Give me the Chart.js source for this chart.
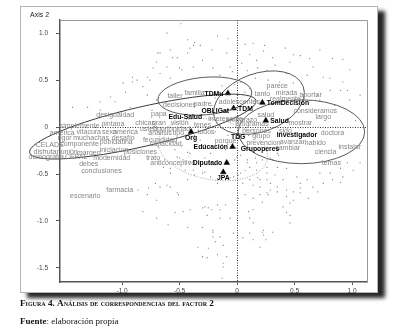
<!DOCTYPE html>
<html>
<head>
<meta charset="utf-8">
<script src="https://cdn.jsdelivr.net/npm/chart.js@4.4.1/dist/chart.umd.min.js"></script>
<style>
  html, body { margin: 0; padding: 0; background: #fff; }
</style>
</head>
<body>
<canvas id="caChart" width="400" height="335"></canvas>
<script>
// tick values of both axes
var xTicks = [-1.0, -0.5, 0, 0.5, 1.0];
var yTicks = [1.0, 0.5, 0, -0.5, -1.0, -1.5];

// categories shown with a black triangle
var catText = ["TDMu", "TDM", "TomDecisión", "Salud", "Educación", "Diputado", "JPA", "Org"];
var catX = [-0.08, -0.03, 0.22, 0.25, -0.04, -0.09, -0.12, -0.40];
var catY = [0.36, 0.20, 0.26, 0.07, -0.21, -0.38, -0.48, -0.05];

// bold categories without a visible marker
var boldText = ["OBLIGat", "Edu-Salud", "TDG", "Investigador", "Grupoperes"];
var boldX = [-0.19, -0.45, 0.01, 0.52, 0.20];
var boldY = [0.17, 0.11, -0.11, -0.09, -0.24];

// words (grey)
var wordText = ["parece", "mirada", "tanto", "realmente", "aportar", "adolescentes", "familia", "taller",
  "decisiones", "padre", "papa", "desigualdad", "simplemente", "pintana", "chicas", "gran", "vision",
  "usted", "oportunidad", "america", "vitacura", "sexo", "america", "analisis", "tipo", "tenes",
  "interesante", "embarazo", "salud", "consideramos", "largo", "mostrar", "programas", "todos",
  "personas", "sido", "grupo", "doctora", "prevencion", "avanzar", "habido", "instalar", "cambiar",
  "ciencia", "temas", "fecundidad", "desafío", "muchachas", "rigor", "componente", "CELADE", "poblo",
  "latina", "capacidad", "disfrutar", "unión", "margen", "iniciacion", "posiciones", "demografía",
  "CEPAL", "modernidad", "trato", "anticonceptivo", "debes", "conclusiones", "farmacia", "escenario",
  "porque"];
var wordX = [0.35, 0.43, 0.22, 0.42, 0.64, 0.02, -0.37, -0.54,
  -0.50, -0.30, -0.68, -1.06, -1.37, -1.08, -0.80, -0.68, -0.50,
  -0.77, -0.57, -1.52, -1.29, -1.11, -0.97, -0.67, -0.51, -0.30,
  -0.10, 0.04, 0.25, 0.68, 0.75, 0.55, 0.13, -0.27,
  0.17, 0.42, 0.21, 0.83, 0.23, 0.48, 0.68, 0.98, 0.44,
  0.77, 0.82, -0.67, -0.99, -1.27, -1.50, -1.37, -1.63, -1.12,
  -0.98, -0.62, -1.66, -1.46, -1.29, -1.07, -0.84, -1.66,
  -1.40, -1.09, -0.73, -0.56, -1.29, -1.18, -1.02, -1.32,
  -0.10];
var wordY = [0.44, 0.36, 0.35, 0.30, 0.34, 0.27, 0.36, 0.33,
  0.23, 0.24, 0.14, 0.13, 0.01, 0.03, 0.04, 0.04, 0.04,
  -0.02, -0.02, -0.06, -0.05, -0.05, -0.05, -0.06, -0.06, 0.02,
  0.09, 0.07, 0.13, 0.17, 0.11, 0.04, 0.03, -0.05,
  -0.04, -0.04, -0.10, -0.06, -0.17, -0.16, -0.17, -0.21, -0.22,
  -0.27, -0.38, -0.14, -0.12, -0.12, -0.12, -0.18, -0.19, -0.16,
  -0.16, -0.18, -0.27, -0.27, -0.28, -0.24, -0.27, -0.32,
  -0.32, -0.33, -0.33, -0.38, -0.39, -0.47, -0.67, -0.73,
  -0.15];

// small grey points of the cloud
var cloud = [
  [-0.49, 1.10], [-0.37, 0.90], [-0.17, 0.97], [-0.08, 0.94], [0.07, 0.88], [0.14, 0.89], [0.23, 0.81],
  [0.49, 0.77], [0.55, 0.76], [0.83, 0.73], [0.92, 0.72], [0.31, 0.74], [0.17, 0.71], [0.04, 0.68],
  [-0.09, 0.79], [-0.22, 0.82], [-0.32, 0.87], [-0.43, 0.79], [-0.52, 0.74], [-0.58, 0.82], [-0.69, 0.79],
  [-0.70, 0.69], [-0.61, 0.64], [-0.50, 0.63], [-0.38, 0.64], [-0.30, 0.71], [-0.21, 0.63], [-0.06, 0.64],
  [0.09, 0.60], [0.26, 0.60], [0.43, 0.57], [0.61, 0.55], [0.66, 0.64], [0.75, 0.53], [0.81, 0.52],
  [0.96, 0.39], [0.92, 0.48], [-0.67, 0.57], [-0.91, 0.48], [-0.99, 0.47], [-0.82, 0.43], [-0.76, 0.50],
  [-0.58, 0.52], [0.49, 0.47], [0.55, 0.36], [0.70, 0.34],
  [-0.91, 0.53], [-0.87, 0.50], [-0.97, 0.37], [-1.10, 0.32], [-1.06, 0.27], [-1.19, 0.27], [-0.93, 0.21],
  [-0.78, 0.34], [-0.70, 0.29], [-0.74, 0.18], [-1.43, 0.21], [-1.30, 0.21], [-1.19, 0.18], [-0.61, 1.00],
  [-0.56, 0.74], [-0.48, 0.61], [-0.43, 0.93], [-0.41, 0.84], [-0.38, 0.87], [-0.67, 0.79], [-0.73, 0.63],
  [-0.78, 0.53],
  [-0.86, -0.67], [-0.77, -0.65], [-0.67, -0.64], [-0.61, -0.62], [-0.58, -0.64], [-0.52, -0.70],
  [-0.51, -0.72], [-0.78, -0.72], [-0.70, -0.78], [-0.82, -0.90], [-0.70, -0.97], [-0.54, -0.91],
  [-0.47, -0.90], [-0.41, -0.88], [-0.28, -0.85], [-0.25, -0.86], [-0.22, -0.88], [-0.17, -0.83],
  [-0.10, -0.83], [-0.15, -0.97], [-0.06, -0.97], [-0.60, -1.04], [-0.43, -1.07], [-0.30, -1.07],
  [-0.21, -1.12], [-0.21, -1.17], [-0.19, -1.22], [-0.25, -1.29], [-0.34, -1.28], [-0.12, -1.26],
  [-0.17, -1.36], [-0.26, -1.39], [-0.12, -1.45], [-0.13, -1.61], [-0.03, -1.13], [0.05, -1.18],
  [0.01, -0.76], [0.07, -0.72], [0.14, -0.76], [0.20, -0.72], [0.27, -0.72], [0.22, -0.80], [0.35, -0.69],
  [0.43, -0.67], [0.49, -0.69], [0.55, -0.65], [0.62, -0.76], [0.70, -0.69], [0.10, -0.90], [0.14, -0.88],
  [0.11, -0.97], [0.14, -1.02], [0.22, -1.12], [0.23, -1.15], [0.25, -1.20], [0.31, -1.12], [0.46, -0.81],
  [0.43, -0.91], [0.46, -0.94], [-0.71, -0.60], [0.29, -0.60], [0.55, -0.60], [0.75, -0.60], [0.90, -0.59],
  [0.83, -0.56], [0.92, -0.53], [1.01, -0.46], [1.07, -0.38], [0.55, -0.70], [0.49, -0.78], [0.43, -0.74],
  [0.40, -0.85], [0.66, -0.64], [0.35, -0.64], [0.29, -0.67], [0.26, -0.70], [0.20, -0.64], [0.14, -0.62],
  [0.11, -0.56], [0.18, -0.54], [0.26, -0.56], [0.33, -0.51], [0.40, -0.56], [0.52, -0.53], [0.61, -0.56],
  [0.72, -0.49], [0.81, -0.49], [0.90, -0.44], [0.96, -0.38], [0.09, -0.38], [0.17, -0.38], [0.26, -0.43],
  [0.35, -0.43], [0.43, -0.44], [0.11, -1.13], [0.14, -1.20], [0.20, -1.28], [0.23, -1.10], [0.46, -1.02],
  [-0.30, -0.86], [-0.26, -0.94], [-0.15, -0.88], [-0.21, -1.10], [-0.15, -1.17], [-0.09, -1.38],
  [-0.30, -1.38], [-0.12, -1.49],
  [-0.54, -0.24], [-0.48, -0.20], [-0.43, -0.27], [-0.37, -0.22], [-0.50, -0.33], [-0.41, -0.37],
  [-0.28, -0.33], [-0.23, -0.28], [-0.19, -0.40], [-0.02, -0.35], [0.03, -0.30], [0.07, -0.46],
  [0.01, -0.51], [-0.06, -0.54], [-0.28, -0.48], [-0.37, -0.51], [-0.45, -0.46], [-0.58, -0.44],
  [-0.63, -0.35], [0.11, -0.24], [0.16, -0.33], [0.22, -0.35], [0.29, -0.33], [0.36, -0.30], [0.03, -0.14],
  [0.10, -0.09], [0.07, 0.16], [0.11, 0.20], [-0.10, 0.16], [-0.22, 0.23], [-0.19, 0.31], [0.07, 0.37],
  [0.11, 0.41], [-0.02, 0.45], [0.03, 0.48], [-0.08, 0.39], [-0.13, 0.44], [0.16, 0.52], [0.27, 0.50],
  [0.37, 0.48], [-0.25, -0.01], [-0.19, -0.05], [-0.15, 0.02], [-0.06, -0.01], [-0.08, -0.09],
  [-0.01, -0.22], [-0.32, -0.14], [-0.37, -0.09], [-0.28, -0.19], [-0.10, -0.24],
  [0.72, 0.29], [0.85, 0.23], [0.98, 0.29], [1.07, 0.34], [1.03, 0.07], [0.90, 0.39],
  [-0.52, -0.32], [-0.47, -0.35], [-0.41, -0.28], [0.00, -0.32], [0.09, -0.35], [0.11, -0.43],
  [0.17, -0.46], [0.03, -0.49], [-0.03, -0.53], [-0.23, -0.53], [-0.30, -0.49], [-0.38, -0.46],
  [-0.43, -0.56], [-0.17, -0.60], [0.05, -0.60], [0.20, -0.56], [0.26, -0.49], [0.31, -0.35],
  [0.35, -0.28], [-0.58, -0.49], [-0.64, -0.43],
  [-0.15, 0.55], [-0.04, 0.59], [0.18, 0.63], [0.33, 0.66], [0.46, 0.69], [0.63, 0.73], [0.11, 0.77],
  [0.24, 0.87], [0.42, 0.84], [0.72, 0.82], [0.98, 0.61], [0.81, 0.39]
];

// confidence ellipses: centre, radii (axis units) and tilt in degrees
var ellCx = [-0.82, -0.28, 0.19, 0.56, -0.21];
var ellCy = [0.005, 0.33, 0.26, -0.05, -0.24];
var ellRx = [1.01, 0.41, 0.41, 0.55, 0.48];
var ellRy = [0.21, 0.20, 0.31, 0.34, 0.32];
var ellRot = [-13, -5, -20, 0, 10];

var sansFont = '"Liberation Sans", Arial, sans-serif';
var serifFont = '"Liberation Serif", "Times New Roman", serif';

var labelSide = {
  TDMu: "left", TDM: "right", "TomDecisión": "right", Salud: "right",
  "Educación": "left", Diputado: "left", JPA: "below", Org: "below"
};

function toPoints(xs, ys) {
  var pts = [];
  for (var i = 0; i < xs.length; i++) {
    pts.push({ x: xs[i], y: ys[i] });
  }
  return pts;
}

var framePlugin = {
  id: "frame",
  beforeDraw: function (chart) {
    var ctx = chart.ctx;
    ctx.save();
    ctx.fillStyle = "#fff";
    ctx.fillRect(0, 0, chart.width, chart.height);
    // box with drop shadow
    ctx.shadowColor = "rgba(0,0,0,0.85)";
    ctx.shadowBlur = 4;
    ctx.shadowOffsetX = 7;
    ctx.shadowOffsetY = 5;
    ctx.fillRect(20, 6, 358, 287);
    ctx.shadowColor = "transparent";
    ctx.strokeStyle = "#b5b5b5";
    ctx.lineWidth = 1;
    ctx.strokeRect(20.5, 6.5, 357, 286);

    ctx.fillStyle = "#222";
    ctx.font = "7px " + sansFont;
    ctx.textBaseline = "middle";
    ctx.fillText("Axis 2", 30, 15);

    // caption
    ctx.fillStyle = "#111";
    ctx.font = "small-caps bold 9.2px " + serifFont;
    ctx.fillText("Figura 4. Análisis de correspondencias del factor 2", 20, 304);
    ctx.font = "bold 9px " + serifFont;
    ctx.fillText("Fuente", 20, 322);
    var w = ctx.measureText("Fuente").width;
    ctx.font = "9px " + serifFont;
    ctx.fillText(": elaboración propia", 20 + w, 322);
    ctx.restore();
  },
  beforeDatasetsDraw: function (chart) {
    var ctx = chart.ctx;
    var a = chart.chartArea;
    var x0 = chart.scales.x.getPixelForValue(0);
    var y0 = chart.scales.y.getPixelForValue(0);
    ctx.save();
    ctx.strokeStyle = "#9a9a9a";
    ctx.lineWidth = 1;
    ctx.beginPath();
    ctx.moveTo(a.left, a.top + 0.5);
    ctx.lineTo(a.right + 0.5, a.top + 0.5);
    ctx.lineTo(a.right + 0.5, a.bottom);
    ctx.stroke();
    ctx.strokeStyle = "#333";
    ctx.setLineDash([1, 1.5]);
    ctx.beginPath();
    ctx.moveTo(Math.round(x0) + 0.5, a.top);
    ctx.lineTo(Math.round(x0) + 0.5, a.bottom);
    ctx.moveTo(a.left, Math.round(y0) + 0.5);
    ctx.lineTo(a.right, Math.round(y0) + 0.5);
    ctx.stroke();
    ctx.restore();
  },
  afterDatasetsDraw: function (chart) {
    var ctx = chart.ctx;
    var xs = chart.scales.x;
    var ys = chart.scales.y;
    var i, cx, cy, rx, ry, els, name, p;
    ctx.save();
    // ellipses
    for (i = 0; i < ellCx.length; i++) {
      cx = xs.getPixelForValue(ellCx[i]);
      cy = ys.getPixelForValue(ellCy[i]);
      rx = Math.abs(xs.getPixelForValue(ellCx[i] + ellRx[i]) - cx);
      ry = Math.abs(ys.getPixelForValue(ellCy[i] + ellRy[i]) - cy);
      ctx.beginPath();
      ctx.ellipse(cx, cy, rx, ry, ellRot[i] * Math.PI / 180, 0, 2 * Math.PI);
      if (i === 4) {
        ctx.strokeStyle = "#a0a0a0";
        ctx.setLineDash([1, 1.5]);
      } else {
        ctx.strokeStyle = i === 0 ? "#3c3c3c" : "#5a5a5a";
        ctx.setLineDash([]);
      }
      ctx.lineWidth = 1;
      ctx.stroke();
    }
    ctx.setLineDash([]);

    // grey words
    ctx.textAlign = "center";
    ctx.textBaseline = "middle";
    ctx.font = "7px " + sansFont;
    ctx.fillStyle = "#858585";
    els = chart.getDatasetMeta(2).data;
    for (i = 0; i < els.length; i++) {
      ctx.fillText(wordText[i], els[i].x, els[i].y);
    }

    // bold labels
    ctx.font = "bold 6.8px " + sansFont;
    ctx.fillStyle = "#000";
    els = chart.getDatasetMeta(3).data;
    for (i = 0; i < els.length; i++) {
      ctx.fillText(boldText[i], els[i].x, els[i].y);
    }
    els = chart.getDatasetMeta(1).data;
    for (i = 0; i < els.length; i++) {
      name = catText[i];
      p = els[i];
      if (labelSide[name] === "left") {
        ctx.textAlign = "right";
        ctx.fillText(name, p.x - 4.5, p.y + 0.5);
      } else if (labelSide[name] === "right") {
        ctx.textAlign = "left";
        ctx.fillText(name, p.x + 4.5, p.y + 0.5);
      } else {
        ctx.textAlign = "center";
        ctx.fillText(name, p.x, p.y + 6);
      }
    }
    ctx.restore();
  }
};

Chart.register(framePlugin);

var ctx = document.getElementById("caChart").getContext("2d");

var caChart = new Chart(ctx, {
  type: "scatter",
  data: {
    datasets: [
      {
        label: "cloud",
        data: cloud.map(function (c) { return { x: c[0], y: c[1] }; }),
        pointStyle: "rect",
        pointRadius: 0.8,
        backgroundColor: "#8a8a8a",
        borderWidth: 0
      },
      {
        label: "categorias",
        data: toPoints(catX, catY),
        pointStyle: "triangle",
        pointRadius: 3.3,
        backgroundColor: "#000",
        borderColor: "#000",
        borderWidth: 0.5
      },
      {
        label: "palabras",
        data: toPoints(wordX, wordY),
        pointRadius: 0
      },
      {
        label: "grupos",
        data: toPoints(boldX, boldY),
        pointRadius: 0
      }
    ]
  },
  options: {
    responsive: false,
    animation: false,
    events: [],
    layout: { padding: { left: 0, top: 20, right: 33, bottom: 0 } },
    plugins: {
      legend: { display: false },
      tooltip: { enabled: false }
    },
    scales: {
      x: {
        type: "linear",
        min: -1.54,
        max: 1.13,
        afterBuildTicks: function (scale) {
          scale.ticks = xTicks.map(function (v) { return { value: v }; });
        },
        afterFit: function (scale) { scale.height = 53; },
        border: { display: true, color: "#555", width: 1.5 },
        grid: { drawOnChartArea: false, drawTicks: true, tickLength: 3, color: "#555" },
        ticks: {
          padding: 2,
          color: "#444",
          font: { size: 6.5, family: sansFont },
          callback: function (v) { return v === 0 ? "0" : v.toFixed(1); }
        }
      },
      y: {
        type: "linear",
        min: -1.65,
        max: 1.14,
        afterBuildTicks: function (scale) {
          scale.ticks = yTicks.map(function (v) { return { value: v }; });
        },
        afterFit: function (scale) { scale.width = 60; },
        border: { display: true, color: "#555", width: 1.5 },
        grid: { drawOnChartArea: false, drawTicks: true, tickLength: 4, color: "#555" },
        ticks: {
          padding: 8,
          color: "#444",
          font: { size: 6.5, family: sansFont },
          callback: function (v) { return v === 0 ? "0" : v.toFixed(1); }
        }
      }
    }
  }
});
</script>
</body>
</html>
